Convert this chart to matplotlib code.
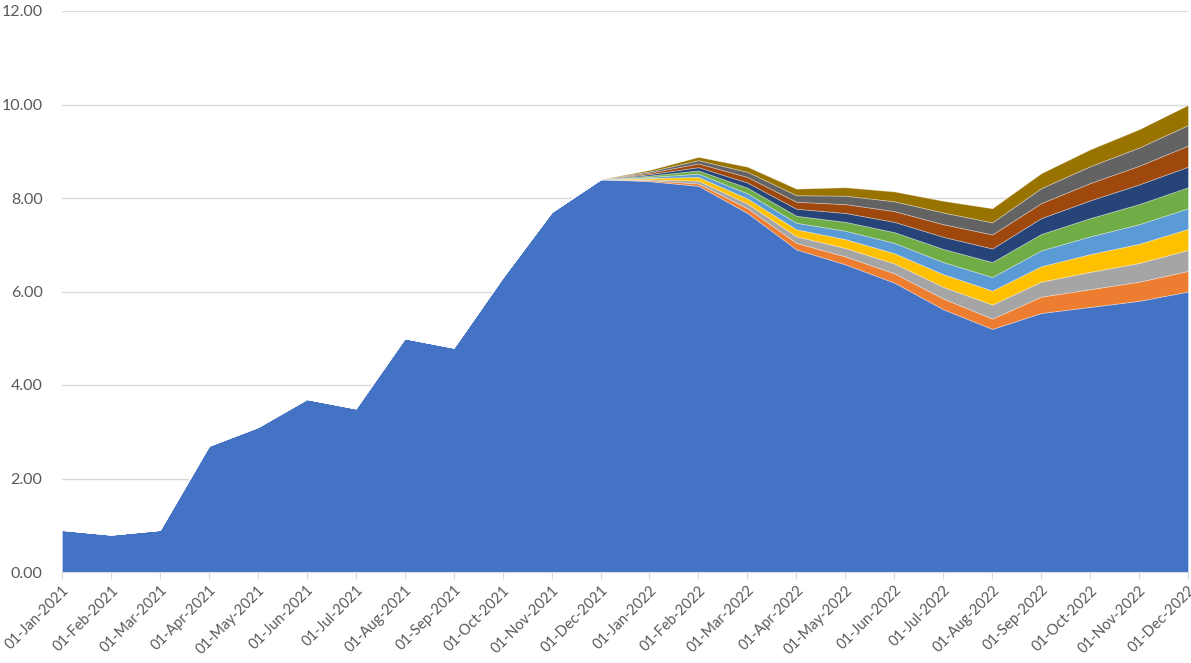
import numpy as np
import matplotlib.pyplot as plt

plt.rcParams['font.family'] = ['Lato', 'DejaVu Sans']

months = ['01-Jan-2021', '01-Feb-2021', '01-Mar-2021', '01-Apr-2021', '01-May-2021',
          '01-Jun-2021', '01-Jul-2021', '01-Aug-2021', '01-Sep-2021', '01-Oct-2021',
          '01-Nov-2021', '01-Dec-2021', '01-Jan-2022', '01-Feb-2022', '01-Mar-2022',
          '01-Apr-2022', '01-May-2022', '01-Jun-2022', '01-Jul-2022', '01-Aug-2022',
          '01-Sep-2022', '01-Oct-2022', '01-Nov-2022', '01-Dec-2022']

# base series
base = [0.90, 0.80, 0.90, 2.70, 3.10, 3.70, 3.50, 5.00, 4.80, 6.30, 7.70, 8.40,
        8.36, 8.26, 7.68, 6.90, 6.58, 6.19, 5.62, 5.20, 5.54, 5.67, 5.80, 6.00]

# additional layers, zero before 2022
pad = [0.0] * 12
s1 = pad + [0.02, 0.05, 0.10, 0.14, 0.17, 0.20, 0.23, 0.22, 0.35, 0.38, 0.41, 0.44]
s2 = pad + [0.02, 0.06, 0.10, 0.14, 0.18, 0.21, 0.25, 0.30, 0.32, 0.37, 0.40, 0.45]
s3 = pad + [0.03, 0.08, 0.11, 0.15, 0.19, 0.22, 0.27, 0.30, 0.33, 0.38, 0.41, 0.45]
s4 = pad + [0.02, 0.07, 0.11, 0.14, 0.18, 0.22, 0.26, 0.29, 0.34, 0.38, 0.42, 0.44]
s5 = pad + [0.03, 0.07, 0.12, 0.15, 0.19, 0.23, 0.28, 0.32, 0.35, 0.39, 0.43, 0.45]
s6 = pad + [0.03, 0.07, 0.11, 0.15, 0.19, 0.22, 0.26, 0.29, 0.34, 0.38, 0.42, 0.44]
s7 = pad + [0.03, 0.08, 0.12, 0.15, 0.19, 0.23, 0.27, 0.30, 0.32, 0.37, 0.40, 0.45]
s8 = pad + [0.03, 0.07, 0.11, 0.14, 0.18, 0.21, 0.25, 0.26, 0.32, 0.36, 0.39, 0.44]
s9 = pad + [0.03, 0.07, 0.11, 0.14, 0.18, 0.21, 0.25, 0.30, 0.32, 0.36, 0.39, 0.43]

colors = ['#4472C4', '#ED7D31', '#A5A5A5', '#FFC000', '#5B9BD5', '#70AD47',
          '#264478', '#9E480E', '#636363', '#997300']

x = np.arange(len(months))

fig = plt.figure(figsize=(11.91, 6.63), dpi=100)
ax = fig.add_axes([62 / 1191, 91 / 663, 1126 / 1191, 561 / 663])

ax.stackplot(x, base, s1, s2, s3, s4, s5, s6, s7, s8, s9, colors=colors,
             edgecolor=(1, 1, 1, 0.35), linewidth=0.6, zorder=2)

ax.set_xlim(0, len(months) - 1)
ax.set_ylim(0, 12)
ax.set_yticks(np.arange(0, 13, 2))
ax.set_yticklabels([f'{v:.2f}' for v in np.arange(0, 13, 2)])
ax.set_xticks(x)
ax.set_xticklabels(months, rotation=45, ha='right', rotation_mode='anchor')

ax.grid(axis='y', color='#D9D9D9', linewidth=1, zorder=0)
ax.set_axisbelow(True)
for s in ['top', 'right', 'left']:
    ax.spines[s].set_visible(False)
ax.spines['bottom'].set_color('#D9D9D9')
ax.spines['bottom'].set_zorder(3)
ax.tick_params(axis='y', length=0, labelsize=11.5, labelcolor='#595959', pad=14)
ax.tick_params(axis='x', length=5, color='#D9D9D9', labelsize=10.5,
               labelcolor='#595959', pad=3)

plt.savefig('out.png', dpi=100)
